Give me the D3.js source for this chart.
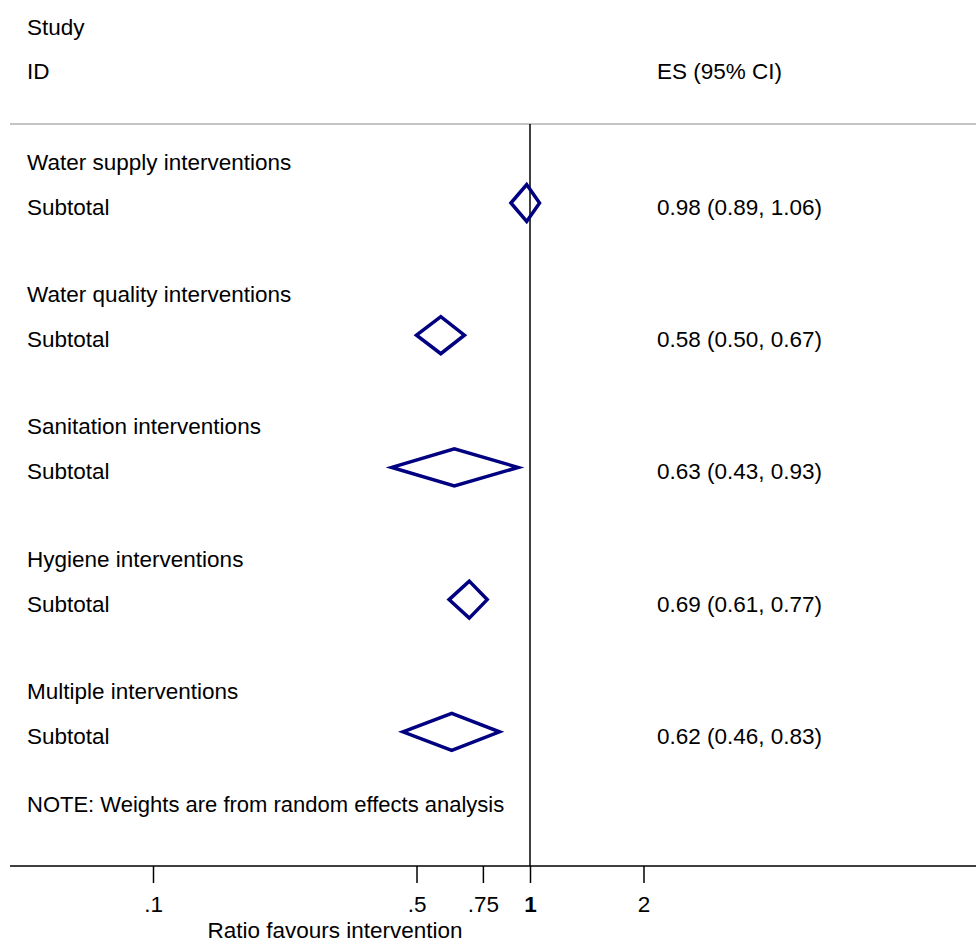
<!DOCTYPE html>
<html>
<head>
<meta charset="utf-8">
<script src="https://cdn.jsdelivr.net/npm/d3@7"></script>
<style>
  body { margin: 0; background: #fff; }
  text { font-family: "Liberation Sans", Arial, sans-serif; font-size: 22.5px; fill: #000; }
</style>
</head>
<body>
<div id="chart"></div>
<script>
const groups = ['Water supply interventions', 'Water quality interventions', 'Sanitation interventions', 'Hygiene interventions', 'Multiple interventions']
const es = [0.98, 0.58, 0.63, 0.69, 0.62]
const lower = [0.89, 0.50, 0.43, 0.61, 0.46]
const upper = [1.06, 0.67, 0.93, 0.77, 0.83]
const tickValues = [0.1, 0.5, 0.75, 1, 2]
const tickLabels = ['.1', '.5', '.75', '1', '2']

const width = 976, height = 944
const svg = d3.select('#chart').append('svg')
  .attr('width', width)
  .attr('height', height)

// log scale: 1 sits at x=530, one decade = 377px
const x = d3.scaleLog().domain([0.1, 1]).range([153, 530])
const y = d3.scaleLinear().domain([0, 1]).range([162, 294.2])
const axisY = 866
const topY = 124

svg.append('text').attr('x', 27).attr('y', 35).text('Study')
svg.append('text').attr('x', 27).attr('y', 79).text('ID')
svg.append('text').attr('x', 657).attr('y', 79).text('ES (95% CI)')

svg.append('line')
  .attr('x1', 10).attr('x2', width)
  .attr('y1', topY).attr('y2', topY)
  .attr('stroke', '#c4c4c4').attr('stroke-width', 2)

// null line at 1
svg.append('line')
  .attr('x1', x(1)).attr('x2', x(1))
  .attr('y1', topY).attr('y2', axisY)
  .attr('stroke', '#000').attr('stroke-width', 1.5)

const rows = svg.selectAll('.grp').data(groups).enter().append('g').attr('class', 'grp')

rows.append('text')
  .attr('x', 27).attr('y', (d, i) => y(i) + 8)
  .text(d => d)

rows.append('text')
  .attr('x', 27).attr('y', (d, i) => y(i) + 53)
  .text('Subtotal')

rows.append('text')
  .attr('x', 657).attr('y', (d, i) => y(i) + 53)
  .text((d, i) => `${es[i].toFixed(2)} (${lower[i].toFixed(2)}, ${upper[i].toFixed(2)})`)

rows.append('path')
  .attr('d', (d, i) => {
    const cy = y(i) + 41, h = 18.5
    return `M${x(lower[i])},${cy}L${x(es[i])},${cy - h}L${x(upper[i])},${cy}L${x(es[i])},${cy + h}Z`
  })
  .attr('fill', 'none')
  .attr('stroke', '#000080')
  .attr('stroke-width', 3.5)
  .attr('stroke-linejoin', 'miter')

svg.append('text').attr('x', 27).attr('y', y(4) + 121)
  .style('font-size', '22px')
  .text('NOTE: Weights are from random effects analysis')

// x axis
svg.append('line')
  .attr('x1', 10).attr('x2', width)
  .attr('y1', axisY).attr('y2', axisY)
  .attr('stroke', '#000').attr('stroke-width', 1.5)

const axis = d3.axisBottom(x)
  .tickValues(tickValues)
  .tickFormat((d, i) => tickLabels[i])
  .tickSize(17)
  .tickPadding(13)

const ax = svg.append('g')
  .attr('transform', `translate(0,${axisY})`)
  .call(axis)
ax.select('.domain').remove()
ax.selectAll('line').attr('stroke', '#000').attr('stroke-width', 1.5)
ax.selectAll('text')
  .style('font-family', '"Liberation Sans", Arial, sans-serif')
  .style('font-size', '22.5px')
  .attr('fill', '#000')
  .style('font-weight', (d) => d === 1 ? 'bold' : 'normal')

svg.append('text')
  .attr('x', 335).attr('y', 938)
  .attr('text-anchor', 'middle')
  .text('Ratio favours intervention')
</script>
</body>
</html>
